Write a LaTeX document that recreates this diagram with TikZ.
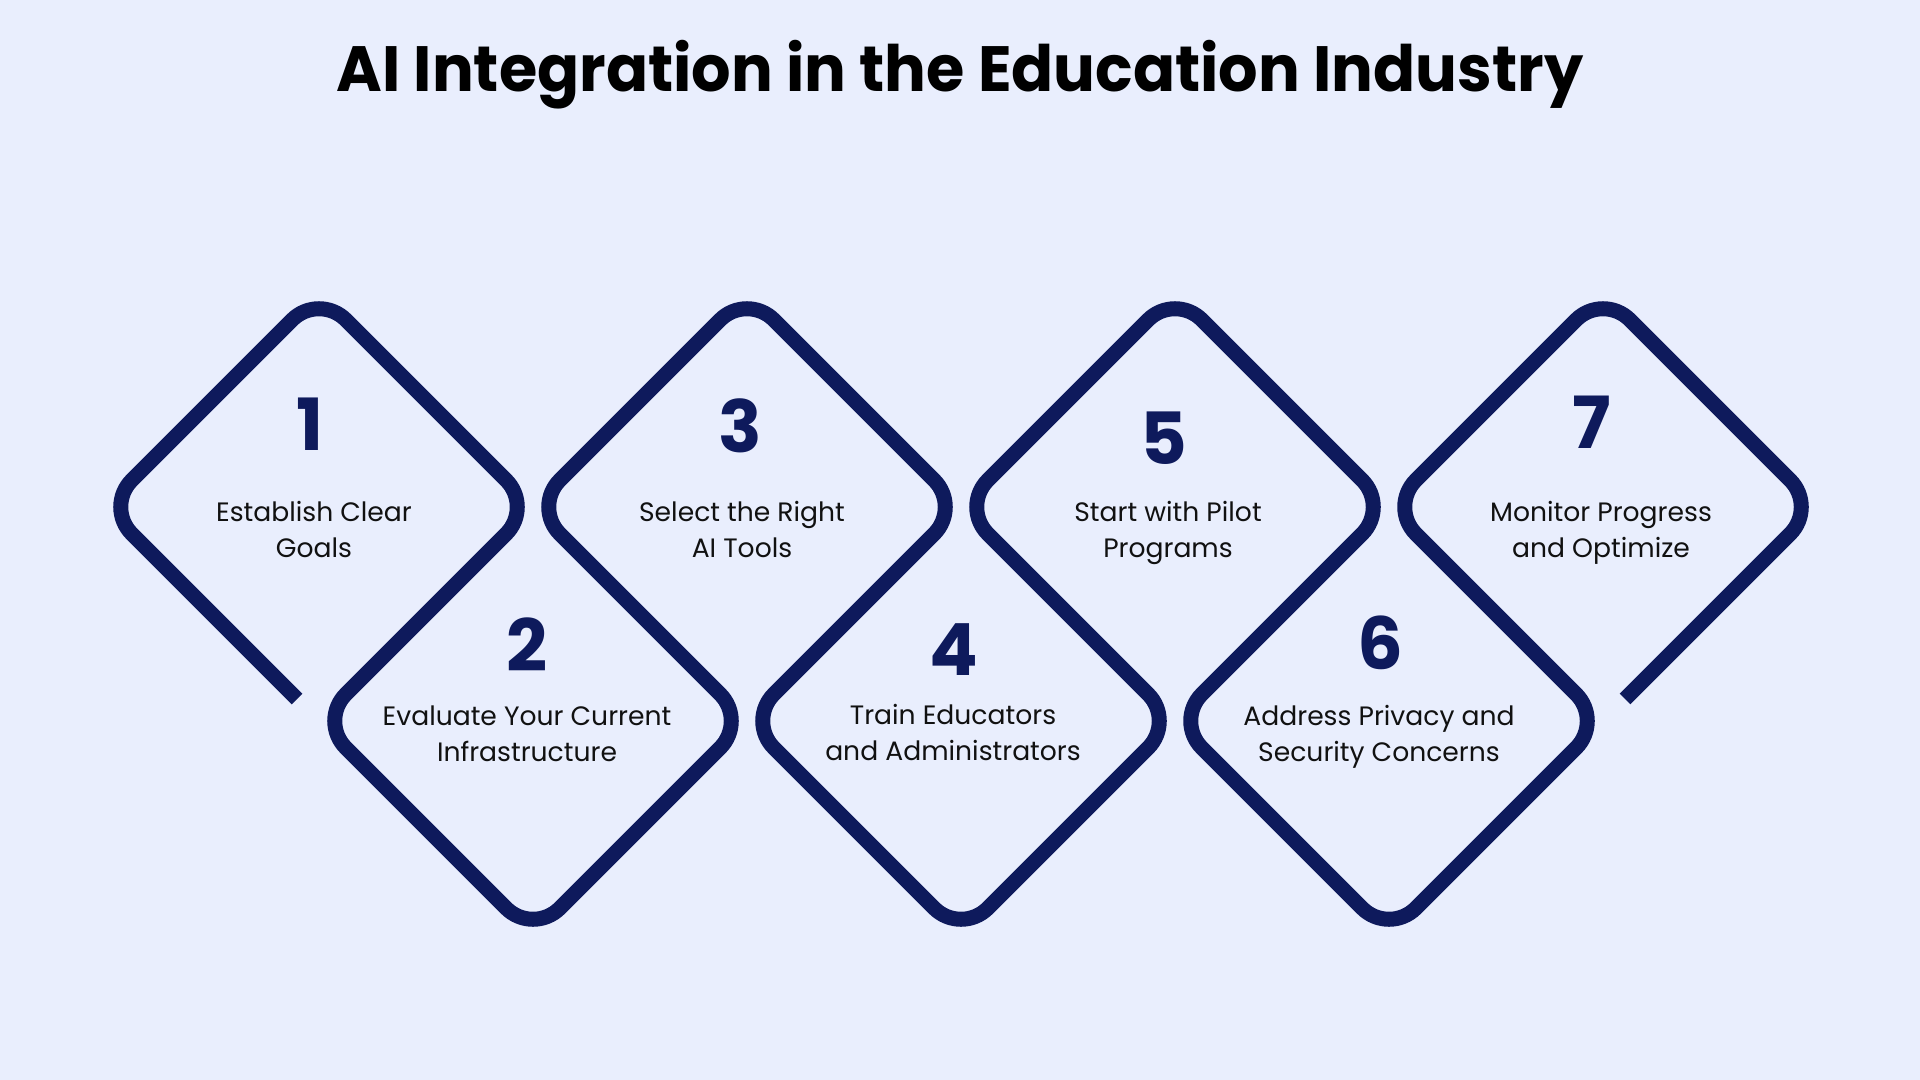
\documentclass[tikz,border=0pt]{standalone}
\usepackage{fontspec}
\setmainfont{Poppins}
\newfontfamily\headfont[FakeStretch=0.97]{Poppins}
\usepackage{xcolor}
\definecolor{navy}{HTML}{0E1A5C}
\definecolor{paper}{HTML}{E9EEFD}
\definecolor{ink}{HTML}{111111}

\begin{document}
\begin{tikzpicture}[x=0.5pt,y=-0.5pt,
  num/.style={text=navy,inner sep=0pt,font=\fontsize{36}{40}\selectfont\bfseries},
  lbl/.style={text=ink,inner sep=0pt,anchor=base,align=center,font=\fontsize{13.3}{18}\selectfont}]
 \fill[paper] (0,0) rectangle (1920,1080);
 \node[anchor=base,inner sep=0pt,font=\headfont\fontsize{32}{40}\selectfont\bfseries] (title) at (960,92) {AI Integration in the Education Industry};
% the zigzag of diamonds, one stroke
 \coordinate (start) at (297,699);
 \coordinate (end) at (1625,699);
 \draw[navy,line width=7.5pt,rounded corners=19pt] (start) -- (105,507) -- (319,293) -- (533,507)
   -- (319,721) -- (533,935) -- (747,721) -- (533,507) -- (747,293) -- (961,507)
   -- (747,721) -- (961,935) -- (1175,721) -- (961,507) -- (1175,293) -- (1389,507)
   -- (1175,721) -- (1389,935) -- (1603,721) -- (1389,507) -- (1603,293) -- (1817,507) -- (end);
% top row (base = last line)
 \node[num] (n1) at (310,424) {1};
 \node[lbl] (t1) at (314,557) {Establish Clear\\Goals};
 \node[num] (n3) at (740,426) {3};
 \node[lbl] (t3) at (742,557) {Select the Right\\AI Tools};
 \node[num] (n5) at (1164,438) {5};
 \node[lbl] (t5) at (1168,557) {Start with Pilot\\Programs};
 \node[num] (n7) at (1592,422) {7};
 \node[lbl] (t7) at (1601,557) {Monitor Progress\\and Optimize};
% bottom row
 \node[num] (n2) at (527,645) {2};
 \node[lbl] (t2) at (527,761) {Evaluate Your Current\\Infrastructure};
 \node[num] (n4) at (954,650) {4};
 \node[lbl] (t4) at (953,760) {Train Educators\\and Administrators};
 \node[num] (n6) at (1380,643) {6};
 \node[lbl] (t6) at (1379,761) {Address Privacy and\\Security Concerns};
\end{tikzpicture}
\end{document}
